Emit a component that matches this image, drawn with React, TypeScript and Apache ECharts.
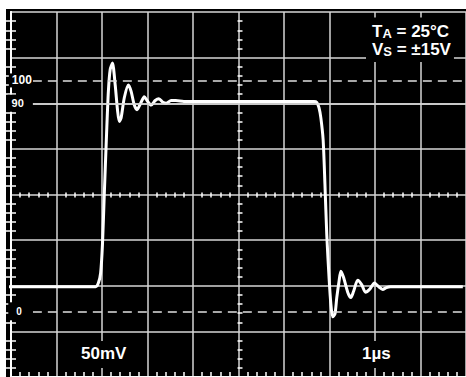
import React, { useEffect, useRef } from 'react';
import * as echarts from 'echarts';

// Horizontal axis: time in microseconds (1 µs/div, 10 divisions)
// Vertical axis: amplitude in mV (50 mV/div, 8 divisions)
const timeUs = [
  -0.09, 1.07, 1.86, 1.92, 1.97, 2.01, 2.05, 2.1, 2.14, 2.18, 2.23, 2.29, 2.34, 2.38, 2.42, 2.49, 2.58,
  2.64, 2.71, 2.77, 2.84, 2.93, 2.99, 3.08, 3.17, 3.25, 3.34, 3.41, 3.52, 3.62, 3.8, 4.13, 6.66, 6.72,
  6.77, 6.81, 6.86, 6.9, 6.94, 6.99, 7.03, 7.07, 7.12, 7.16, 7.21, 7.25, 7.31, 7.4, 7.47, 7.53, 7.62,
  7.71, 7.79, 7.88, 7.99, 8.08, 8.17, 8.25, 8.34, 8.49, 9.15, 9.93,
];
const outputMv = [
  99, 99, 99, 103, 114, 145, 200, 266, 313, 337, 344, 320, 293, 280, 284, 306, 320,
  313, 298, 293, 299, 307, 303, 298, 303, 305, 301, 300, 303, 303, 302, 302, 302, 301,
  295, 284, 260, 211, 156, 109, 80, 66, 69, 87, 105, 116, 109, 93, 87, 94, 106,
  101, 93, 96, 103, 99, 96, 98, 99, 99, 99, 99,
];

const refLabels = ['100', '90', '0'];
const refLevelsMv = [325, 300, 72];
const refDashed = [true, false, true];
const refFontSizes = [12, 11, 10];

const scaleLabels = ['50mV', '1µs'];
const conditionSymbols = ['T', 'V'];
const conditionSubs = ['A', 'S'];
const conditionValues = [' = 25°C', ' = ±15V'];

const X_MIN = 0, X_MAX = 10, X_STEP = 1;
const Y_MIN = 0, Y_MAX = 400, Y_STEP = 50;
const REF_START_US = 0.48;

const GRID = '#d6d6d6';
const WHITE = '#ffffff';
const FONT = '"Liberation Sans", Arial, Helvetica, sans-serif';

function App() {
  const ref = useRef<HTMLDivElement>(null);
  useEffect(() => {
    if (!ref.current) return;
    const chart = echarts.init(ref.current, null, { renderer: 'svg' });

    const minor = (len: number) => ({ show: true, splitNumber: 5, length: len, lineStyle: { color: WHITE, width: 1.5 } });
    const xBase = { type: 'value', min: X_MIN, max: X_MAX, interval: X_STEP, axisLabel: { show: false } };
    const yBase = { type: 'value', min: Y_MIN, max: Y_MAX, interval: Y_STEP, axisLabel: { show: false } };
    const border = { show: true, lineStyle: { color: WHITE, width: 2 } };

    const data = timeUs.map((t, i) => [t, outputMv[i]]);

    const markData = refLabels.map((lab, i) => [
      {
        coord: [REF_START_US, refLevelsMv[i]],
        lineStyle: { type: refDashed[i] ? [9, 6] : 'solid', color: refDashed[i] ? '#e0e0e0' : GRID, width: 1.5 },
        label: {
          show: true,
          position: 'start',
          formatter: lab,
          distance: 0,
          color: WHITE,
          fontFamily: FONT,
          fontWeight: 'bold',
          fontSize: refFontSizes[i],
          backgroundColor: '#000',
          padding: i === 0 ? [1, 1, 1, 3] : i === 1 ? [3, 9, 3, 4] : [4, 11, 4, 8],
        },
      },
      { coord: [X_MAX, refLevelsMv[i]] },
    ]);

    const condText = conditionSymbols
      .map((s, i) => `{m|${s}}{s|${conditionSubs[i]}}{m|${conditionValues[i]}}`)
      .join('\n');

    chart.setOption({
      animation: false,
      backgroundColor: 'transparent',
      grid: { left: 11, top: 12, width: 458, height: 366, containLabel: false },
      title: [
        {
          text: condText,
          left: 366,
          top: 17,
          padding: [5, 3, 4, 6],
          backgroundColor: '#000',
          textStyle: {
            rich: {
              m: { fontSize: 17, fontWeight: 'bold', color: WHITE, fontFamily: FONT, lineHeight: 18 },
              s: { fontSize: 13, fontWeight: 'bold', color: WHITE, fontFamily: FONT, lineHeight: 6, verticalAlign: 'bottom' },
            },
          },
        },
        {
          text: scaleLabels[0],
          left: 75,
          top: 341,
          padding: [4, 6, 6, 6],
          backgroundColor: '#000',
          textStyle: { fontSize: 17, fontWeight: 'bold', color: WHITE, fontFamily: FONT },
        },
        {
          text: scaleLabels[1],
          left: 356,
          top: 341,
          padding: [4, 6, 6, 6],
          backgroundColor: '#000',
          textStyle: { fontSize: 17, fontWeight: 'bold', color: WHITE, fontFamily: FONT },
        },
      ],
      xAxis: [
        {
          ...xBase, position: 'bottom', axisLine: border,
          splitLine: { show: true, lineStyle: { color: GRID, width: 1.5 } },
          axisTick: { show: false, inside: true }, minorTick: minor(5),
        },
        { ...xBase, position: 'top', axisLine: border, splitLine: { show: false }, axisTick: { show: false, inside: true }, minorTick: minor(5) },
        { ...xBase, position: 'bottom', offset: -183, axisLine: { show: false }, splitLine: { show: false }, axisTick: { show: false, inside: true }, minorTick: minor(2.5) },
        { ...xBase, position: 'bottom', offset: -183, axisLine: { show: false }, splitLine: { show: false }, axisTick: { show: false, inside: false }, minorTick: minor(2.5) },
      ],
      yAxis: [
        {
          ...yBase, position: 'left', axisLine: border,
          splitLine: { show: true, lineStyle: { color: GRID, width: 1.5 } },
          axisTick: { show: false, inside: true }, minorTick: minor(5),
        },
        { ...yBase, position: 'right', axisLine: border, splitLine: { show: false }, axisTick: { show: false, inside: true }, minorTick: minor(5) },
        { ...yBase, position: 'left', offset: -229, axisLine: { show: false }, splitLine: { show: false }, axisTick: { show: false, inside: true }, minorTick: minor(2.5) },
        { ...yBase, position: 'left', offset: -229, axisLine: { show: false }, splitLine: { show: false }, axisTick: { show: false, inside: false }, minorTick: minor(2.5) },
      ],
      series: [
        {
          type: 'line',
          xAxisIndex: 0,
          yAxisIndex: 0,
          data,
          showSymbol: false,
          smooth: 0.25,
          clip: false,
          lineStyle: { color: WHITE, width: 3 },
          markLine: { silent: true, symbol: 'none', animation: false, data: markData },
          z: 3,
        },
      ],
    });
    return () => chart.dispose();
  }, []);

  return (
    <div style={{ position: 'fixed', left: 0, top: 0, width: 466, height: 377, background: '#fff', overflow: 'hidden' }}>
      <div style={{ position: 'absolute', left: 6, top: 9, width: 460, height: 368, background: '#000' }} />
      <div ref={ref} style={{ position: 'absolute', left: 0, top: 0, width: 466, height: 377 }} />
    </div>
  );
}

export default App;
